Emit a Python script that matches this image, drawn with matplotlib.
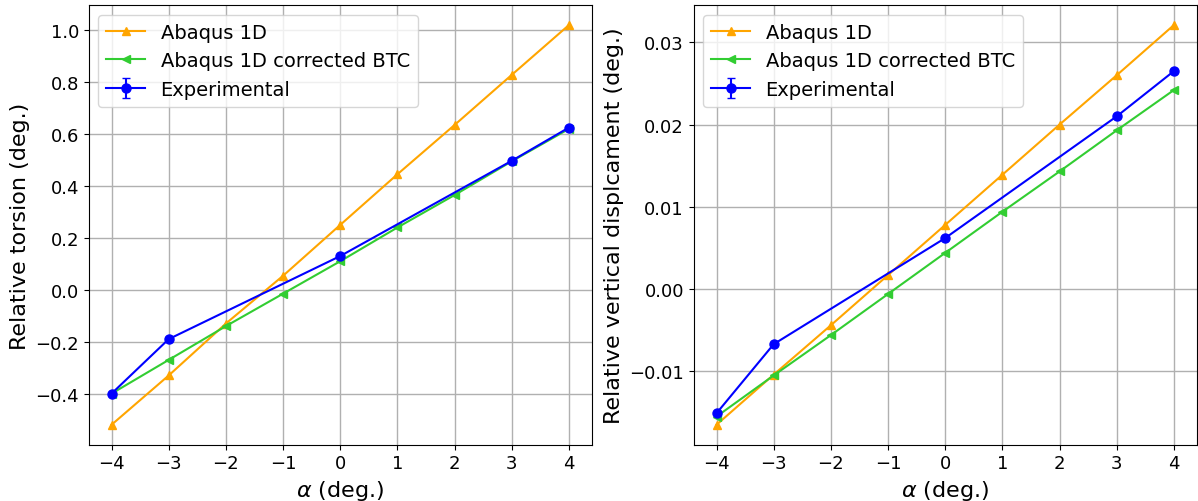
import matplotlib
matplotlib.use("Agg")
import matplotlib.pyplot as plt

alpha = [-4, -3, -2, -1, 0, 1, 2, 3, 4]
alpha_exp = [-4, -3, 0, 3, 4]

torsion_abaqus = [-0.52, -0.33, -0.13, 0.054, 0.25, 0.445, 0.635, 0.828, 1.02]
torsion_btc = [-0.40, -0.27, -0.14, -0.015, 0.11, 0.24, 0.365, 0.495, 0.62]
torsion_exp = [-0.40, -0.19, 0.13, 0.497, 0.625]
torsion_err = [0.0, 0.0, 0.0, 0.0, 0.0]

vert_abaqus = [-0.0165, -0.0104, -0.0044, 0.0017, 0.0078, 0.0139, 0.0200, 0.0260, 0.0321]
vert_btc = [-0.0155, -0.0105, -0.0056, -0.0006, 0.0044, 0.0094, 0.0143, 0.0193, 0.0242]
vert_exp = [-0.0151, -0.0067, 0.0062, 0.0210, 0.0265]
vert_err = [0.0, 0.0, 0.0, 0.0, 0.0]

fig = plt.figure(figsize=(11.98, 5.02), dpi=100)
ax1 = fig.add_axes([0.074, 0.112, 0.420, 0.876])
ax2 = fig.add_axes([0.579, 0.112, 0.420, 0.876])


def draw(ax, ab, btc, exp, err, ylabel):
    ax.plot(alpha, ab, color="orange", marker="^", markersize=6, lw=1.5, label="Abaqus 1D")
    ax.plot(alpha, btc, color="limegreen", marker="<", markersize=6, lw=1.5,
            label="Abaqus 1D corrected BTC")
    ax.errorbar(alpha_exp, exp, yerr=err, color="blue", marker="o", markersize=6.5,
                lw=1.5, capsize=3, label="Experimental")
    ax.grid(True, color="#b0b0b0", lw=1)
    ax.set_xticks(alpha)
    ax.tick_params(labelsize=13)
    ax.set_xlabel(r"$\alpha$ (deg.)", fontsize=16)
    ax.set_ylabel(ylabel, fontsize=16)
    ax.legend(loc="upper left", fontsize=14)


draw(ax1, torsion_abaqus, torsion_btc, torsion_exp, torsion_err, "Relative torsion (deg.)")
draw(ax2, vert_abaqus, vert_btc, vert_exp, vert_err, "Relative vertical displcament (deg.)")

fig.savefig("out.png", dpi=100)
